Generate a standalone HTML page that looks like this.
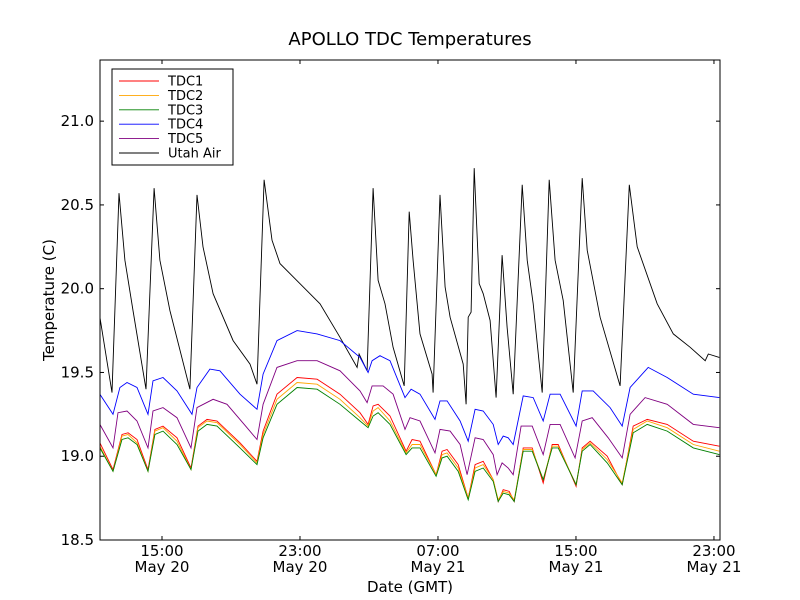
<!DOCTYPE html>
<html><head><meta charset="utf-8"><style>
body{margin:0;background:#fff;}
svg{display:block;font-family:"DejaVu Sans","Liberation Sans",sans-serif;}
</style></head><body>
<svg id="chart" width="800" height="600">
<rect x="0" y="0" width="800" height="600" fill="#fff"/>
<text x="410" y="45" font-size="18" text-anchor="middle">APOLLO TDC Temperatures</text>
<g id="series"></g>
<rect x="100" y="60" width="620" height="480" fill="none" stroke="#000" stroke-width="1"/>
<g id="axes"></g>
<text x="410" y="592" font-size="15" text-anchor="middle">Date (GMT)</text>
<text transform="translate(54,300) rotate(-90)" font-size="15" text-anchor="middle">Temperature (C)</text>
<g id="legend"></g>
</svg>
<script>
// time in hours since May 20 00:00 GMT, values in deg C
const airTimes=[11.40,12.10,12.51,12.85,13.32,14.07,14.54,14.88,15.46,16.62,17.03,17.38,17.96,19.12,20.10,20.51,20.92,21.38,21.84,23.0,24.16,25.32,26.31,26.43,26.89,27.24,27.53,27.93,28.40,29.04,29.33,29.56,29.96,30.66,30.72,31.12,31.41,31.70,32.46,32.63,32.75,32.92,33.10,33.39,33.62,34.02,34.37,34.72,35.01,35.36,35.88,36.17,36.52,37.04,37.45,37.79,38.26,38.84,39.36,39.65,40.40,41.56,42.09,42.55,43.71,44.64,45.62,46.49,46.67,47.31];
const airValues=[19.83,19.38,20.57,20.17,19.87,19.40,20.60,20.17,19.87,19.40,20.56,20.25,19.97,19.69,19.55,19.43,20.65,20.29,20.15,20.03,19.91,19.71,19.53,19.61,19.51,20.60,20.05,19.91,19.65,19.42,20.46,20.17,19.73,19.49,19.38,20.56,20.01,19.83,19.55,19.31,19.83,19.86,20.72,20.03,19.97,19.81,19.35,20.20,19.77,19.37,20.62,20.17,19.91,19.38,20.65,20.17,19.93,19.38,20.66,20.23,19.83,19.42,20.62,20.25,19.91,19.73,19.65,19.57,19.61,19.59];
const tdc4Times=[11.40,12.16,12.56,12.97,13.55,14.19,14.48,15.06,15.87,16.74,17.03,17.78,18.36,19.52,20.51,20.86,21.67,22.83,23.99,25.32,26.48,26.95,27.18,27.64,28.22,29.09,29.44,29.96,30.83,31.12,31.53,32.28,32.75,33.15,33.62,34.20,34.49,34.78,35.07,35.36,35.94,36.52,37.10,37.50,38.08,39.01,39.36,40.0,40.98,41.68,42.14,43.19,44.29,45.80,47.31];
const tdc4Values=[19.37,19.25,19.41,19.44,19.41,19.25,19.45,19.47,19.39,19.25,19.41,19.52,19.51,19.37,19.28,19.49,19.69,19.75,19.73,19.69,19.59,19.50,19.57,19.60,19.57,19.35,19.40,19.37,19.22,19.33,19.33,19.21,19.09,19.28,19.27,19.19,19.07,19.12,19.11,19.07,19.36,19.35,19.21,19.37,19.37,19.18,19.39,19.39,19.29,19.18,19.41,19.53,19.47,19.37,19.35];
const tdc5Times=[11.40,12.16,12.45,12.97,13.55,14.19,14.48,15.06,15.87,16.68,17.03,17.96,18.77,19.93,20.51,20.86,21.67,22.83,23.99,25.32,26.48,26.89,27.18,27.82,28.40,29.09,29.38,29.96,30.83,31.12,31.70,32.28,32.69,33.15,33.62,34.20,34.43,34.72,35.07,35.36,35.82,36.46,37.10,37.50,38.08,38.95,39.36,39.94,40.87,41.68,42.14,43.01,44.29,45.80,47.31];
const tdc5Values=[19.19,19.05,19.26,19.27,19.21,19.05,19.27,19.29,19.23,19.05,19.29,19.34,19.31,19.17,19.10,19.31,19.53,19.57,19.57,19.51,19.39,19.32,19.42,19.42,19.37,19.16,19.23,19.21,19.02,19.16,19.15,19.07,18.89,19.11,19.10,19.01,18.89,18.96,18.93,18.89,19.18,19.18,19.01,19.19,19.19,18.99,19.21,19.23,19.11,18.99,19.25,19.35,19.31,19.19,19.17];
const tdcTimes=[11.40,12.16,12.68,13.03,13.55,14.19,14.59,15.06,15.87,16.68,17.09,17.61,18.19,19.52,20.51,20.86,21.67,22.83,23.99,25.32,26.48,26.95,27.24,27.53,28.22,29.15,29.50,29.96,30.89,31.24,31.53,32.17,32.75,33.15,33.62,34.20,34.49,34.78,35.13,35.42,35.94,36.46,37.10,37.62,37.97,39.01,39.36,39.82,40.81,41.68,42.32,43.13,44.29,45.80,47.31];
const tdc3Values=[19.05,18.91,19.10,19.11,19.07,18.91,19.13,19.15,19.07,18.92,19.15,19.19,19.18,19.05,18.95,19.11,19.31,19.41,19.40,19.31,19.21,19.17,19.24,19.26,19.19,19.01,19.05,19.05,18.88,18.99,19.00,18.91,18.74,18.91,18.93,18.85,18.73,18.78,18.77,18.73,19.03,19.03,18.86,19.05,19.05,18.83,19.03,19.07,18.96,18.83,19.14,19.19,19.15,19.05,19.01];
const tdc2Values=[19.06,18.91,19.12,19.13,19.08,18.91,19.15,19.17,19.09,18.92,19.17,19.21,19.20,19.07,18.96,19.13,19.34,19.44,19.43,19.34,19.23,19.18,19.27,19.29,19.21,19.02,19.07,19.07,18.89,19.01,19.02,18.93,18.75,18.93,18.95,18.86,18.74,18.79,18.78,18.74,19.04,19.04,18.86,19.06,19.06,18.83,19.04,19.08,18.98,18.84,19.16,19.21,19.17,19.07,19.03];
const tdc1Values=[19.08,18.92,19.13,19.14,19.10,18.92,19.16,19.18,19.11,18.93,19.18,19.22,19.21,19.08,18.97,19.15,19.37,19.47,19.46,19.37,19.26,19.19,19.30,19.31,19.24,19.03,19.10,19.09,18.89,19.03,19.04,18.95,18.75,18.95,18.97,18.86,18.73,18.80,18.79,18.73,19.05,19.05,18.84,19.07,19.07,18.82,19.05,19.09,19.00,18.83,19.18,19.22,19.19,19.09,19.06];
const yTicks=[18.5,19.0,19.5,20.0,20.5,21.0];
const yTickLabels=["18.5","19.0","19.5","20.0","20.5","21.0"];
const xTicks=[15,23,31,39,47];
const xTickLabels=[["15:00","May 20"],["23:00","May 20"],["07:00","May 21"],["15:00","May 21"],["23:00","May 21"]];
const seriesNames=["TDC1","TDC2","TDC3","TDC4","TDC5","Utah Air"];

const L=100,R=720,T=60,B=540;
const xMin=11.406,xMax=47.35,yMin=18.5,yMax=21.365;
function xs(h){return L+(h-xMin)/(xMax-xMin)*(R-L);}
function ys(v){return B-(v-yMin)/(yMax-yMin)*(B-T);}
const NS="http://www.w3.org/2000/svg";
const seriesG=document.getElementById('series');
function line(times,vals,color,name){
  const p=document.createElementNS(NS,'polyline');
  p.setAttribute('points',times.map((t,i)=>xs(t).toFixed(1)+','+ys(vals[i]).toFixed(1)).join(' '));
  p.setAttribute('fill','none');p.setAttribute('stroke',color);p.setAttribute('stroke-width','0.9');
  
  
  seriesG.appendChild(p);
}
line(airTimes,airValues,'#000','utah-air-line');
line(tdc4Times,tdc4Values,'#0000ff','tdc4-line');
line(tdc5Times,tdc5Values,'#800080','tdc5-line');
line(tdcTimes,tdc1Values,'#ff0000','tdc1-line');
line(tdcTimes,tdc2Values,'#ffa500','tdc2-line');
line(tdcTimes,tdc3Values,'#008000','tdc3-line');

const axes=document.getElementById('axes');
function mk(tag,attrs,txt){const e=document.createElementNS(NS,tag);for(const k in attrs)e.setAttribute(k,attrs[k]);if(txt!==undefined)e.textContent=txt;axes.appendChild(e);return e;}
yTicks.forEach((v,i)=>{
  const y=ys(v);
  const a=mk('line',{x1:L,x2:L+4,y1:y,y2:y,stroke:'#000'});
  
  
  const b=mk('line',{x1:R-4,x2:R,y1:y,y2:y,stroke:'#000'});
  
  
  const t=mk('text',{x:L-6,y:y+5,'font-size':15,'text-anchor':'end'},yTickLabels[i]);
  
  
});
xTicks.forEach((h,i)=>{
  const x=xs(h);
  const a=mk('line',{x1:x,x2:x,y1:B,y2:B-4,stroke:'#000'});
  
  
  const b=mk('line',{x1:x,x2:x,y1:T,y2:T+4,stroke:'#000'});
  
  
  const t1=mk('text',{x:x,y:B+16,'font-size':15,'text-anchor':'middle'},xTickLabels[i][0]);
  
  
  const t2=mk('text',{x:x,y:B+32,'font-size':15,'text-anchor':'middle'},xTickLabels[i][1]);
  
  
});

const lg=document.getElementById('legend');
const colors=['#ff0000','#ffa500','#008000','#0000ff','#800080','#000'];
const box=document.createElementNS(NS,'rect');
box.setAttribute('x',112);box.setAttribute('y',69);box.setAttribute('width',121);box.setAttribute('height',96);
box.setAttribute('fill','#fff');box.setAttribute('stroke','#000');


lg.appendChild(box);
seriesNames.forEach((n,i)=>{
  const y=81+i*14.4;
  const l=document.createElementNS(NS,'line');
  l.setAttribute('x1',119);l.setAttribute('x2',159);l.setAttribute('y1',y);l.setAttribute('y2',y);
  l.setAttribute('stroke',colors[i]);l.setAttribute('stroke-width','0.9');
  
  
  lg.appendChild(l);
  const t=document.createElementNS(NS,'text');
  t.setAttribute('x',168);t.setAttribute('y',y+4.5);t.setAttribute('font-size','13');
  t.textContent=n;
  
  
  lg.appendChild(t);
});
</script>
</body></html>
